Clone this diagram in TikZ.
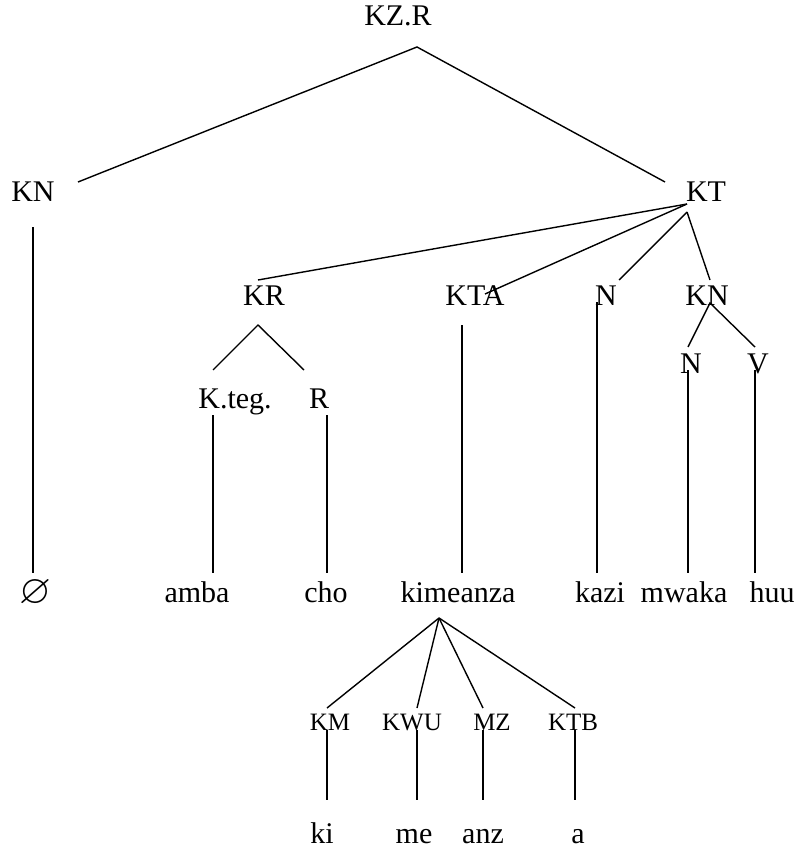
\documentclass[tikz,border=0pt]{standalone}
\usepackage{amssymb}
\usepackage{fontspec}
\setmainfont{Liberation Serif}
\begin{document}
\begin{tikzpicture}[x=1pt,y=-1pt,
  lbl/.style={inner sep=0pt,anchor=base,font=\fontsize{30}{36}\selectfont},
  sublbl/.style={inner sep=0pt,anchor=base,font=\fontsize{25}{30}\selectfont},
  nullbl/.style={inner sep=0pt,anchor=base,font=\fontsize{41}{48}\selectfont},
  branch/.style={line width=1.4pt,line cap=butt}]
\useasboundingbox (0,0) rectangle (799,850);

% ---- labels ----
\node[lbl] (kzr) at (398,26) {KZ.R};
\node[lbl] (kn1) at (33,202) {KN};
\node[lbl] (kt) at (706,202) {KT};
\node[lbl] (kr) at (264,305) {KR};
\node[lbl] (kta) at (475,305) {KTA};
\node[lbl] (n1) at (606,305) {N};
\node[lbl] (kn2) at (707,305) {KN};
\node[lbl] (n2) at (691,373) {N};
\node[lbl] (v) at (758,373) {V};
\node[lbl] (kteg) at (235,408) {K.teg.};
\node[lbl] (r) at (319,408) {R};

\node[nullbl] (empty) at (35,603) {$\varnothing$};
\node[lbl] (amba) at (197,602) {amba};
\node[lbl] (cho) at (326,602) {cho};
\node[lbl] (kimeanza) at (458,602) {kimeanza};
\node[lbl] (kazi) at (600,602) {kazi};
\node[lbl] (mwaka) at (684,602) {mwaka};
\node[lbl] (huu) at (772,602) {huu};

\node[sublbl] (km) at (330,730) {KM};
\node[sublbl] (kwu) at (412,730) {KWU};
\node[sublbl] (mz) at (492,730) {MZ};
\node[sublbl] (ktb) at (573,730) {KTB};

\node[lbl] (ki) at (322,843) {ki};
\node[lbl] (me) at (414,843) {me};
\node[lbl] (anz) at (483,843) {anz};
\node[lbl] (a) at (578,843) {a};

% ---- branch end points ----
\coordinate (kzr-b) at (417,47);
\coordinate (kn1-t) at (78,182);
\coordinate (kt-t) at (665,182);
\coordinate (kn1-b) at (33,227);
\coordinate (empty-t) at (33,573);
\coordinate (kt-b1) at (687,204);
\coordinate (kt-b2) at (687,212);
\coordinate (kr-t) at (258,280);
\coordinate (kta-t) at (485,294);
\coordinate (n1-t) at (619,280);
\coordinate (kn2-t) at (710,280);
\coordinate (kr-b) at (258,325);
\coordinate (kteg-t) at (213,370);
\coordinate (r-t) at (304,370);
\coordinate (kteg-b) at (213,415);
\coordinate (r-b) at (327,415);
\coordinate (amba-t) at (213,573);
\coordinate (cho-t) at (327,573);
\coordinate (kta-b) at (462,325);
\coordinate (kim-t) at (462,573);
\coordinate (n1-b) at (597,302);
\coordinate (kazi-t) at (597,573);
\coordinate (kn2-b) at (710,303);
\coordinate (n2-t) at (688,347);
\coordinate (v-t) at (755,347);
\coordinate (n2-b) at (688,370);
\coordinate (v-b) at (755,370);
\coordinate (mwaka-t) at (688,573);
\coordinate (huu-t) at (755,573);
\coordinate (kim-b) at (439,618);
\coordinate (km-t) at (327,708);
\coordinate (kwu-t) at (417,708);
\coordinate (mz-t) at (483,708);
\coordinate (ktb-t) at (575,708);
\coordinate (km-b) at (327,730);
\coordinate (kwu-b) at (417,730);
\coordinate (mz-b) at (483,730);
\coordinate (ktb-b) at (575,730);
\coordinate (ki-t) at (327,800);
\coordinate (me-t) at (417,800);
\coordinate (anz-t) at (483,800);
\coordinate (a-t) at (575,800);

% ---- branches ----
\draw[branch] (kn1-t) -- (kzr-b) -- (kt-t);
\draw[branch] (kn1-b) -- (empty-t);
\draw[branch] (kt-b1) -- (kr-t);
\draw[branch] (kt-b1) -- (kta-t);
\draw[branch] (kt-b2) -- (n1-t);
\draw[branch] (kt-b2) -- (kn2-t);
\draw[branch] (kteg-t) -- (kr-b) -- (r-t);
\draw[branch] (kteg-b) -- (amba-t);
\draw[branch] (r-b) -- (cho-t);
\draw[branch] (kta-b) -- (kim-t);
\draw[branch] (n1-b) -- (kazi-t);
\draw[branch] (n2-t) -- (kn2-b) -- (v-t);
\draw[branch] (n2-b) -- (mwaka-t);
\draw[branch] (v-b) -- (huu-t);
\draw[branch] (kim-b) -- (km-t);
\draw[branch] (kim-b) -- (kwu-t);
\draw[branch] (kim-b) -- (mz-t);
\draw[branch] (kim-b) -- (ktb-t);
\draw[branch] (km-b) -- (ki-t);
\draw[branch] (kwu-b) -- (me-t);
\draw[branch] (mz-b) -- (anz-t);
\draw[branch] (ktb-b) -- (a-t);
\end{tikzpicture}
\end{document}
